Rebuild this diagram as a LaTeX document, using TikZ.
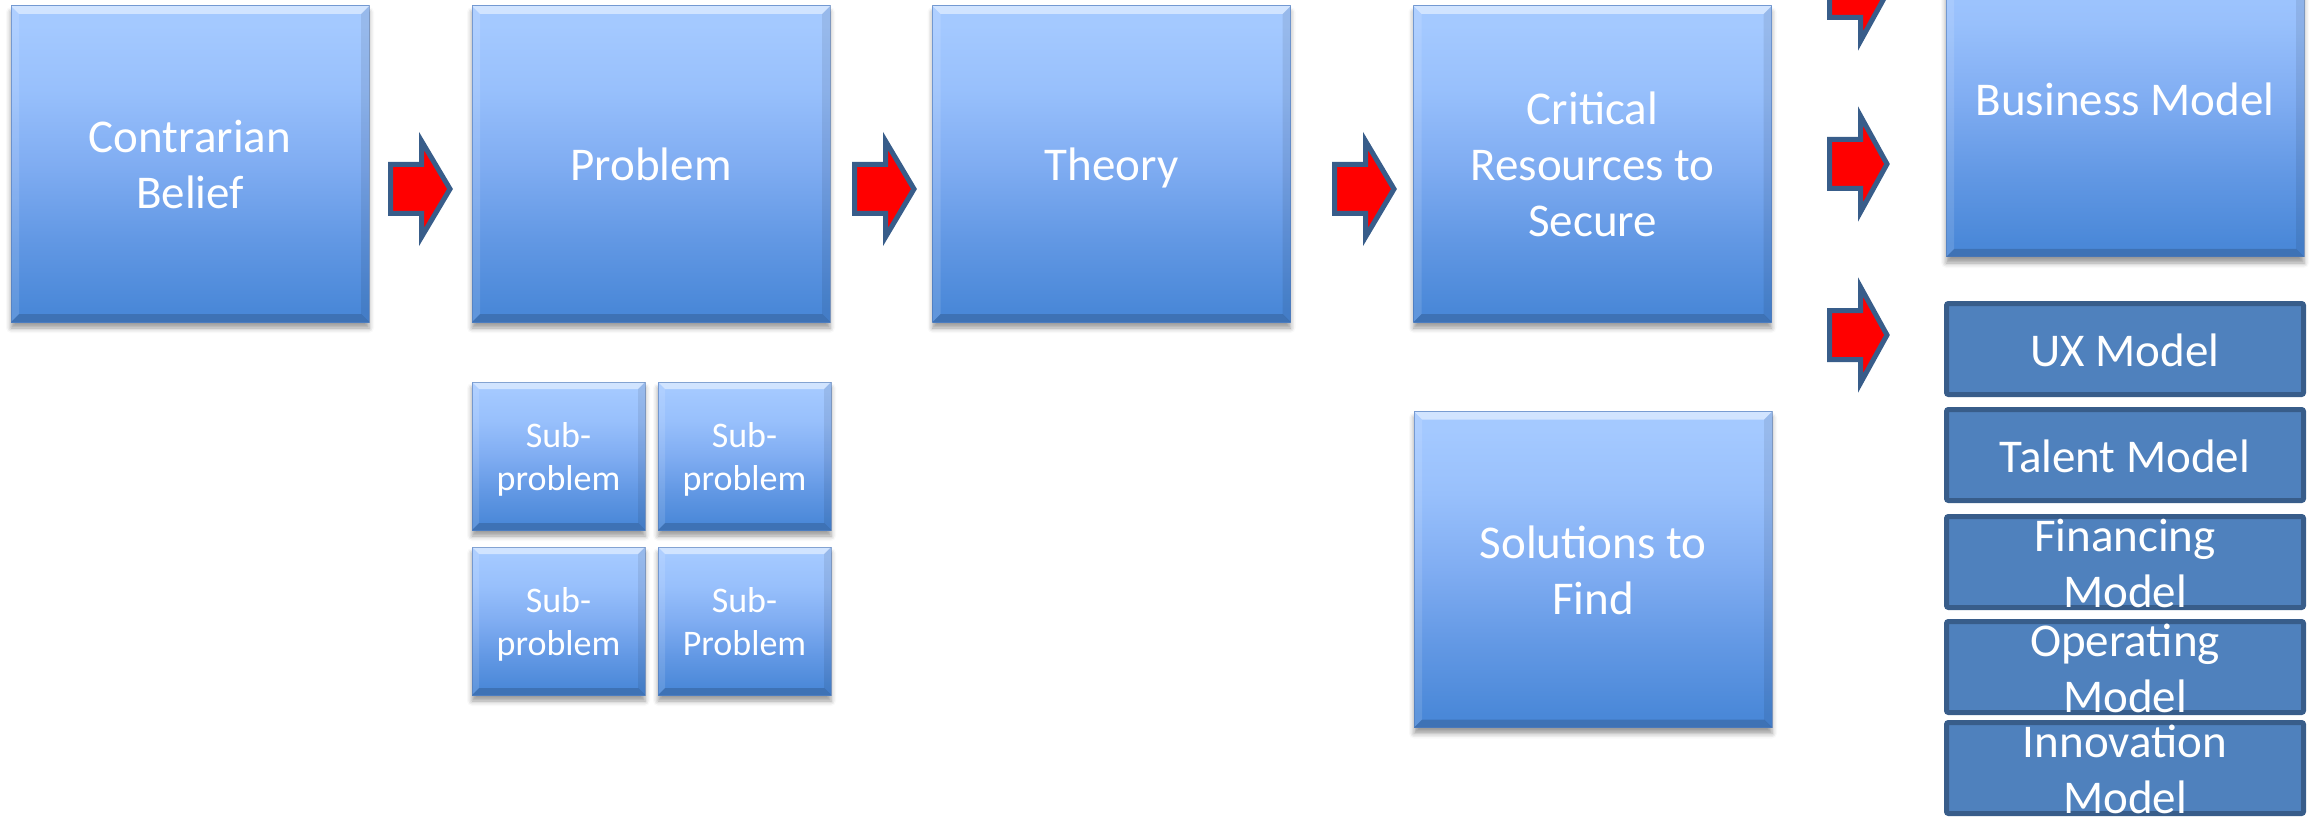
\documentclass[tikz,border=0pt]{standalone}
\usepackage{fontspec}
\setmainfont{Carlito}
\usetikzlibrary{shadows.blur}
\definecolor{mfill}{RGB}{79,129,189}
\definecolor{mline}{RGB}{56,93,138}
\definecolor{gedge}{RGB}{80,120,180}
\pgfdeclareverticalshading{boxshade}{100bp}{rgb(0bp)=(0.290,0.533,0.847); rgb(27bp)=(0.290,0.533,0.847); rgb(38bp)=(0.384,0.596,0.894); rgb(50bp)=(0.502,0.678,0.949); rgb(62bp)=(0.596,0.753,0.988); rgb(72bp)=(0.643,0.788,1.0); rgb(100bp)=(0.643,0.788,1.0)}
\newcommand\bigstrutx{\rule[-11pt]{0pt}{56pt}}
\newcommand\smallstrutx{\rule[-8pt]{0pt}{42pt}}
\newcommand\blockarr[3]{%
  \draw[redarr] (#1+2.5,#2-24.5) -- (#1+33.5,#2-24.5) -- (#1+33.5,#2-48) -- (#1+#3-5,#2)
    -- (#1+33.5,#2+48) -- (#1+33.5,#2+24.5) -- (#1+2.5,#2+24.5) -- cycle;}
\tikzset{
  bevel/.style={path picture={
    \fill[white,opacity=.5] (path picture bounding box.north west) -- (path picture bounding box.north east)
      -- ([shift={(-#1,-#1)}]path picture bounding box.north east) -- ([shift={(#1,-#1)}]path picture bounding box.north west) -- cycle;
    \fill[white,opacity=.12] (path picture bounding box.north west) -- (path picture bounding box.south west)
      -- ([shift={(#1,#1)}]path picture bounding box.south west) -- ([shift={(#1,-#1)}]path picture bounding box.north west) -- cycle;
    \fill[black,opacity=.08] (path picture bounding box.north east) -- (path picture bounding box.south east)
      -- ([shift={(-#1,#1)}]path picture bounding box.south east) -- ([shift={(-#1,-#1)}]path picture bounding box.north east) -- cycle;
    \fill[black,opacity=.16] (path picture bounding box.south west) -- (path picture bounding box.south east)
      -- ([shift={(-#1,#1)}]path picture bounding box.south east) -- ([shift={(#1,#1)}]path picture bounding box.south west) -- cycle;
  }},
  gbox/.style={shading=boxshade, draw=gedge, draw opacity=.6, line width=1pt,
    minimum width=358pt, minimum height=316pt, inner sep=0pt, text=white, align=center,
    font=\fontsize{47}{56}\selectfont,
    blur shadow={shadow xshift=0pt,shadow yshift=-6pt,shadow blur radius=5pt,shadow opacity=40},
    bevel=8pt},
  sbox/.style={gbox, minimum width=173pt, minimum height=148pt, font=\fontsize{36}{43}\selectfont, bevel=7pt},
  mbox/.style={fill=mfill, draw=mline, line width=5pt, rounded corners=2pt,
    minimum width=357pt, minimum height=91pt, inner sep=0pt},
  mtext/.style={text=white, align=center, inner sep=0pt, font=\fontsize{47}{56}\selectfont},
  redarr/.style={fill=red, draw=mline, line width=5pt, line join=miter, miter limit=12}
}
\begin{document}
\begin{tikzpicture}[x=1pt,y=-1pt]
\useasboundingbox (0,0) rectangle (2315,818);
\clip (0,0) rectangle (2315,818);
% main flow
\node[gbox] (cb) at (190,164) {\bigstrutx Contrarian\\\bigstrutx Belief};
\node[gbox] (pr) at (651,164) {\bigstrutx Problem};
\node[gbox] (th) at (1111.5,164) {\bigstrutx Theory};
\node[gbox] (cr) at (1592.5,164) {\bigstrutx Critical\\\bigstrutx Resources to\\\bigstrutx Secure};
\node[gbox] (bm) at (2125,99) {\bigstrutx Business Model};
\node[gbox] (sf) at (1593,569.5) {\bigstrutx Solutions to\\\bigstrutx Find};
% sub-problems
\node[sbox] (sp1) at (558.5,456) {\smallstrutx Sub-\\\smallstrutx problem};
\node[sbox] (sp2) at (744.5,456) {\smallstrutx Sub-\\\smallstrutx problem};
\node[sbox] (sp3) at (558.5,621) {\smallstrutx Sub-\\\smallstrutx problem};
\node[sbox] (sp4) at (744.5,621) {\smallstrutx Sub-\\\smallstrutx Problem};
% models
\node[mbox] (ux) at (2125,349) {};
\node[mtext] at (ux) {\bigstrutx UX Model};
\node[mbox] (tm) at (2125,455) {};
\node[mtext] at (tm) {\bigstrutx Talent Model};
\node[mbox] (fm) at (2125,562) {};
\node[mtext] at (fm) {\bigstrutx Financing\\\bigstrutx Model};
\node[mbox] (om) at (2125,667) {};
\node[mtext] at (om) {\bigstrutx Operating\\\bigstrutx Model};
\node[mbox] (im) at (2125,768) {};
\node[mtext] at (im) {\bigstrutx Innovation\\\bigstrutx Model};
% block arrows
\blockarr{388}{189}{67}
\blockarr{852}{189}{67}
\blockarr{1332}{189}{67}
\blockarr{1827}{-7}{65}
\blockarr{1827}{164}{65}
\blockarr{1827}{335}{65}
\end{tikzpicture}
\end{document}
